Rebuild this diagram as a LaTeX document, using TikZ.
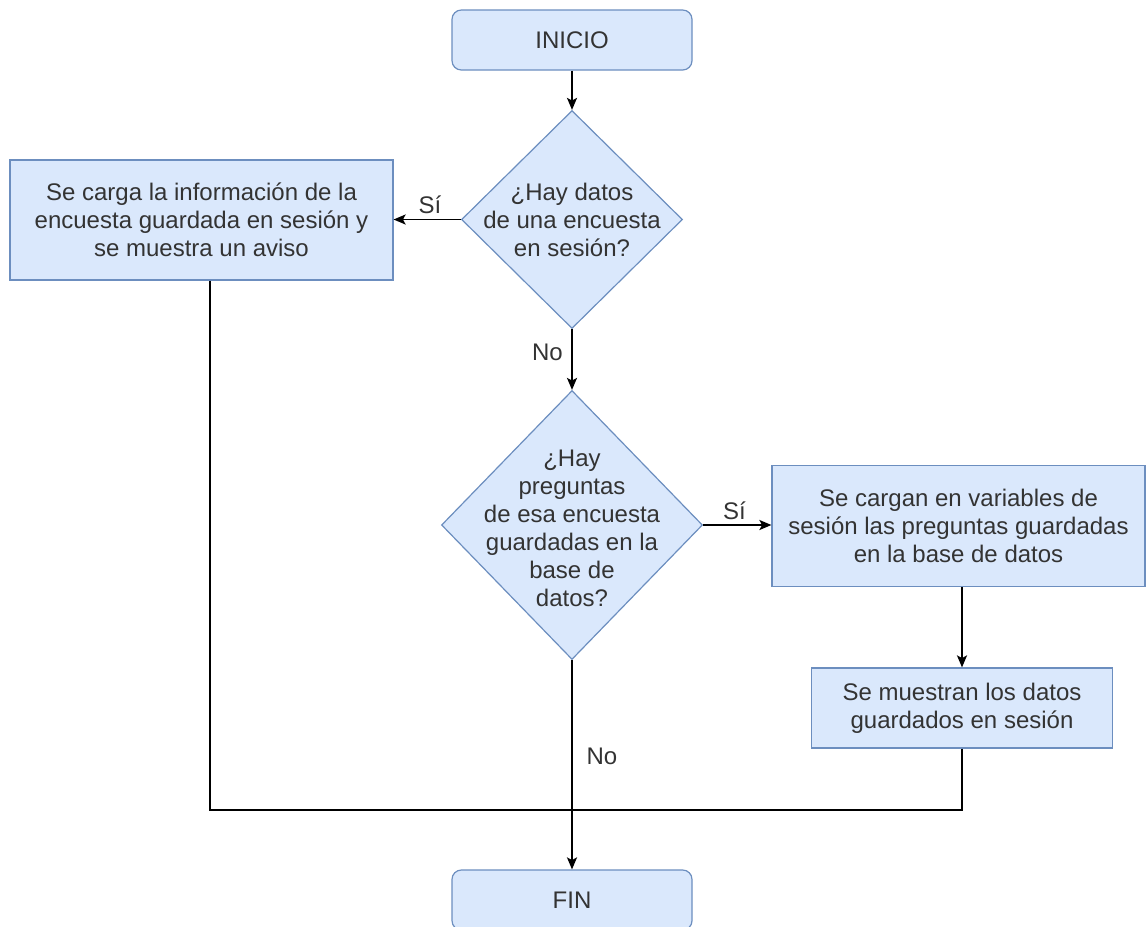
\documentclass[tikz,border=0pt]{standalone}
\usepackage{fontspec}
\setmainfont{Liberation Sans}
\usetikzlibrary{shapes.geometric,arrows.meta}

\definecolor{cajaFondo}{HTML}{DAE8FC}
\definecolor{cajaBorde}{HTML}{6C8EBF}
\definecolor{texto}{HTML}{333333}

\tikzset{
  base/.style={draw=cajaBorde,fill=cajaFondo,line width=0.9pt,inner sep=0pt,
    text=texto,align=center,font=\fontsize{18pt}{21pt}\selectfont},
  terminal/.style={base,rounded corners=7pt,minimum width=180pt,minimum height=45pt},
  proceso/.style={base},
  decision/.style={base,diamond},
  rotulo/.style={text=texto,align=center,font=\fontsize{18pt}{21pt}\selectfont},
  flecha/.style={line width=1.3pt,-{Stealth[length=9pt,width=7.5pt,inset=2pt]}},
  linea/.style={line width=1.3pt}
}

\begin{document}
\begin{tikzpicture}[x=0.75pt,y=-0.75pt]
\clip (0,0) rectangle (1146,926);

% Nodes
\node[terminal] (inicio) at (572,40) {INICIO};
\node[decision,minimum width=165.75pt,minimum height=163.5pt] (hayDatos) at (572,219.5) {};
\node[rotulo] (hayDatosTxt) at (572,220) {¿Hay datos\\de una encuesta\\en sesión?};
\node[proceso,minimum width=287.25pt,minimum height=90pt] (cargaSesion) at (201.5,220)
  {Se carga la información de la\\encuesta guardada en sesión y\\se muestra un aviso};
\node[decision,minimum width=195.75pt,minimum height=201.75pt] (hayPreguntas) at (572,525) {};
\node[rotulo] (hayPreguntasTxt) at (572,528) {¿Hay\\preguntas\\de esa encuesta\\guardadas en la\\base de\\datos?};
\node[proceso,minimum width=279.75pt,minimum height=90.75pt] (cargaVars) at (958.5,526)
  {Se cargan en variables de\\sesión las preguntas guardadas\\en la base de datos};
\node[proceso,minimum width=225.75pt,minimum height=60pt] (muestra) at (962,708)
  {Se muestran los datos\\guardados en sesión};
\node[terminal] (fin) at (572,900) {FIN};

% Junctions
\coordinate (junta) at (572,810);
\coordinate (juntaIzq) at (210,810);

% Arrows
\draw[flecha] (inicio) -- (hayDatos);
\draw[flecha] (hayDatos.west) -- node[rotulo,above,pos=0.46] (si1) {Sí} (hayDatos.west -| cargaSesion.east);
\draw[flecha] (hayDatos.south) -- node[rotulo,left=3pt,pos=0.39] (no1) {No} (hayPreguntas.north);
\draw[flecha] (hayPreguntas.east) -- node[rotulo,above,pos=0.46] (si2) {Sí} (hayPreguntas.east -| cargaVars.west);
\draw[flecha] (cargaVars.south -| muestra) -- (muestra.north);
\draw[flecha] (hayPreguntas.south) -- node[rotulo,right=7pt,pos=0.46] (no2) {No} (fin.north);

% Return lines
\draw[linea] (cargaSesion.south -| juntaIzq) -- (juntaIzq) -- (junta);
\draw[linea] (muestra.south) -- (muestra.south |- junta) -- (junta);
\end{tikzpicture}
\end{document}
